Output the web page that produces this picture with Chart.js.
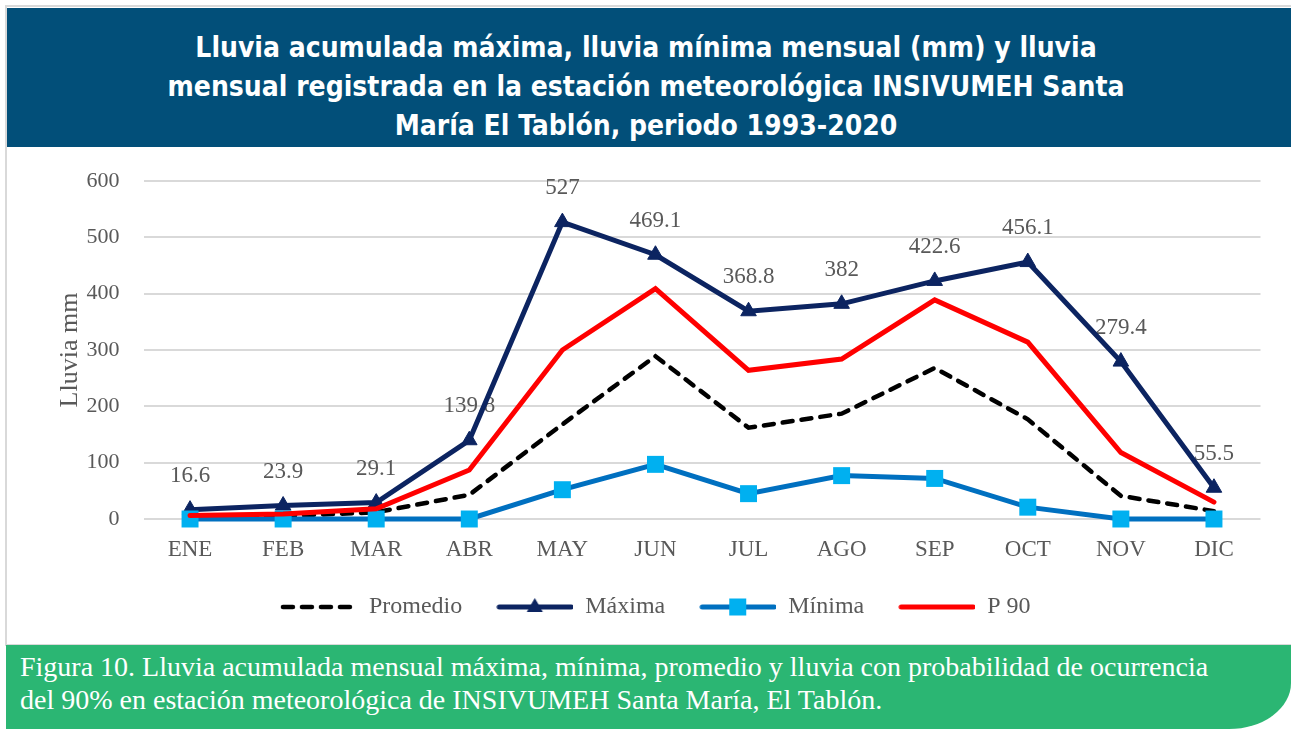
<!DOCTYPE html>
<html><head><meta charset="utf-8">
<script src="https://cdn.jsdelivr.net/npm/chart.js@4.4.1/dist/chart.umd.min.js"></script>
<style>
html,body{margin:0;padding:0;background:#fff;}
body{width:1291px;height:729px;overflow:hidden;position:relative;}
#frame{position:absolute;left:5px;top:5px;width:1310px;height:641px;border:2px solid #d9d9d9;box-sizing:border-box;}
#banner{position:absolute;left:7px;top:8px;width:1284px;height:139px;background:#024f79;color:#fff;
  font-family:"DejaVu Sans Condensed","DejaVu Sans",sans-serif;font-weight:bold;font-size:28px;line-height:39px;
  text-align:center;box-sizing:border-box;padding-top:20px;padding-right:6px;}
#wrap{position:absolute;left:8px;top:148px;width:1283px;height:481px;}
#caption{position:absolute;left:6px;top:645px;width:1285px;height:84px;background:#2bb673;
  border-bottom-right-radius:62px 46px;color:#fff;font-family:"Liberation Serif",serif;font-size:28px;line-height:33px;
  box-sizing:border-box;padding:5px 0 0 14px;white-space:nowrap;}
</style></head>
<body>
<div id="frame"></div>
<div id="banner">Lluvia acumulada máxima, lluvia mínima mensual (mm) y lluvia<br>mensual registrada en la estación meteorológica INSIVUMEH Santa<br>María El Tablón, periodo 1993-2020</div>
<div id="wrap"><canvas id="c"></canvas></div>
<div id="caption">Figura 10. Lluvia acumulada mensual máxima, mínima, promedio y lluvia con probabilidad de ocurrencia<br>del 90% en estación meteorológica de INSIVUMEH Santa María, El Tablón.</div>
<script>
const months = ['ENE','FEB','MAR','ABR','MAY','JUN','JUL','AGO','SEP','OCT','NOV','DIC'];
const promedio = [3, 5, 12, 43, 168, 289, 162, 187, 268, 177, 41, 14];
const maxima = [16.6, 23.9, 29.1, 139.8, 527, 469.1, 368.8, 382, 422.6, 456.1, 279.4, 55.5];
const minima = [0, 0, 0, 0, 52, 97, 45, 77, 72, 21, 0, 0];
const p90 = [6, 9, 18, 87, 300, 409, 264, 284, 389, 314, 118, 30];
const yTicks = [0, 100, 200, 300, 400, 500, 600];

const SERIF = '"Liberation Serif", serif';
const GREY = '#595959';

function legendImg(kind){
  const c = document.createElement('canvas');
  c.width = 77; c.height = 22;
  const g = c.getContext('2d');
  g.lineCap = 'round';
  const y = 11;
  if (kind === 'prom') {
    g.strokeStyle = '#000'; g.lineWidth = 4.5; g.setLineDash([10, 9]);
    g.beginPath(); g.moveTo(3, y); g.lineTo(76, y); g.stroke();
  } else if (kind === 'max') {
    g.strokeStyle = '#0c2461'; g.lineWidth = 5;
    g.beginPath(); g.moveTo(3, y); g.lineTo(75, y); g.stroke();
    g.fillStyle = '#0c2461'; g.beginPath();
    g.moveTo(38.5, y - 9); g.lineTo(46.5, y + 5); g.lineTo(30.5, y + 5); g.closePath(); g.fill();
  } else if (kind === 'min') {
    g.strokeStyle = '#0070c0'; g.lineWidth = 5;
    g.beginPath(); g.moveTo(3, y); g.lineTo(75, y); g.stroke();
    g.fillStyle = '#00b0f0'; g.fillRect(30, y - 8.5, 17, 17);
  } else {
    g.strokeStyle = '#ff0000'; g.lineWidth = 5;
    g.beginPath(); g.moveTo(3, y); g.lineTo(75, y); g.stroke();
  }
  return c;
}
const legendImgs = [legendImg('prom'), legendImg('max'), legendImg('min'), legendImg('p90')];

const labelPlugin = {
  id: 'maxLabels',
  beforeDatasetsDraw(chart){
    const ctx = chart.ctx;
    const meta = chart.getDatasetMeta(1);
    ctx.save();
    ctx.font = '23px ' + SERIF;
    ctx.fillStyle = GREY;
    ctx.textAlign = 'center';
    ctx.textBaseline = 'middle';
    meta.data.forEach((pt, i) => ctx.fillText(String(maxima[i]), pt.x, pt.y - 34));
    ctx.restore();
  }
};

new Chart(document.getElementById('c'), {
  type: 'line',
  data: {
    labels: months,
    datasets: [
      {label: 'Promedio', data: promedio, borderColor: '#000', borderWidth: 4.5, borderDash: [10, 9],
       borderCapStyle: 'round', pointRadius: 0, order: 4, tension: 0, clip: false},
      {label: 'Máxima', data: maxima, borderColor: '#0c2461', backgroundColor: '#0c2461', borderWidth: 5,
       pointStyle: 'triangle', pointRadius: 9, pointBorderWidth: 1, order: 3, tension: 0, clip: false},
      {label: 'Mínima', data: minima, borderColor: '#0070c0', backgroundColor: '#00b0f0', pointBorderColor: '#00b0f0',
       borderWidth: 5, pointStyle: 'rect', pointRadius: 12, pointBorderWidth: 0, order: 2, tension: 0, clip: false},
      {label: 'P 90', data: p90, borderColor: '#ff0000', borderWidth: 5, borderCapStyle: 'round',
       pointRadius: 0, order: 1, tension: 0, clip: false}
    ]
  },
  options: {
    responsive: true, maintainAspectRatio: false, animation: false,
    layout: {padding: {top: 33, left: 42, right: 30.5, bottom: 0}},
    plugins: {
      tooltip: {enabled: false},
      legend: {
        position: 'bottom',
        labels: {
          usePointStyle: true, pointStyleWidth: 77, padding: 34,
          color: GREY, font: {family: SERIF, size: 24},
          sort: (a, b) => a.datasetIndex - b.datasetIndex,
          generateLabels(chart){
            const items = Chart.defaults.plugins.legend.labels.generateLabels(chart);
            items.forEach(it => { it.pointStyle = legendImgs[it.datasetIndex]; });
            return items;
          }
        }
      }
    },
    scales: {
      x: {
        offset: true,
        grid: {display: false, drawTicks: false},
        border: {display: false},
        ticks: {color: GREY, font: {family: SERIF, size: 23}, padding: 17},
        afterFit(s){ s.height = 42; }
      },
      y: {
        min: 0, max: 600,
        afterBuildTicks(s){ s.ticks = yTicks.map(v => ({value: v})); },
        grid: {color: '#d9d9d9', lineWidth: 2, drawTicks: false},
        border: {display: false},
        ticks: {color: GREY, font: {family: SERIF, size: 22}, padding: 24},
        title: {display: true, text: 'Lluvia mm', color: GREY, font: {family: SERIF, size: 26}, padding: {top: 5, bottom: 0}},
        afterFit(s){ s.width = 93.5; s.paddingTop = 0; s.paddingBottom = 0; }
      }
    }
  },
  plugins: [labelPlugin]
});
</script>
</body></html>
